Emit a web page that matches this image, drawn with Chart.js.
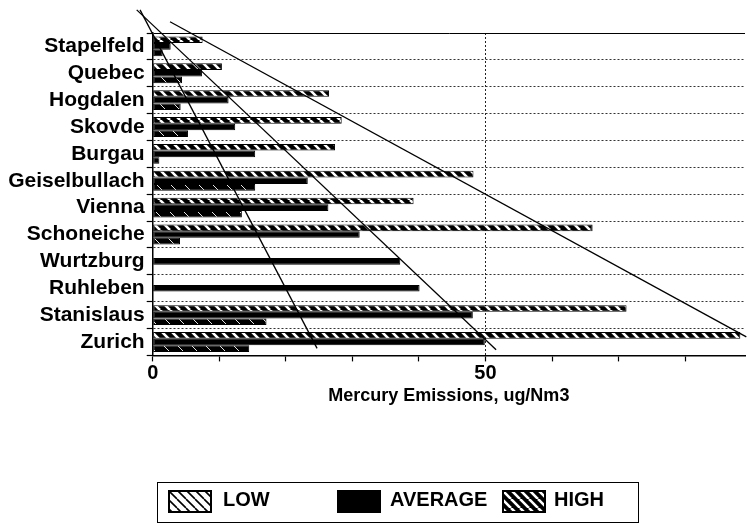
<!DOCTYPE html>
<html>
<head>
<meta charset="utf-8">
<title>Mercury Emissions</title>
<script src="https://cdn.jsdelivr.net/npm/chart.js@4.4.1/dist/chart.umd.min.js"></script>
<style>
    html, body { margin: 0; padding: 0; background: #fff; }
    #wrap { position: relative; width: 747px; height: 526px; font-family: "Liberation Sans", Arial, sans-serif; }
    #chart { position: absolute; left: 0; top: 0; }
    #legend { position: absolute; left: 157px; top: 482px; width: 480px; height: 39px; border: 1px solid #000; }
    #legend canvas { position: absolute; top: 7px; }
    #legend span { position: absolute; top: 5px; font-size: 20px; font-weight: bold; line-height: 23px; color: #000; }
</style>
</head>
<body>
<div id="wrap">
    <canvas id="chart" width="747" height="526"></canvas>
    <div id="legend"></div>
</div>
<script>
"use strict";

// Plants, top to bottom
const plants = ["Stapelfeld", "Quebec", "Hogdalen", "Skovde", "Burgau", "Geiselbullach",
                "Vienna", "Schoneiche", "Wurtzburg", "Ruhleben", "Stanislaus", "Zurich"];

// Mercury emissions, ug/Nm3
const lowValues  = [1.5, 4.4, 4.2, 5.3, 1.0, 15.4, 13.4, 4.1, null, null, 17.1, 14.5];
const avgValues  = [2.7, 7.4, 11.4, 12.4, 15.4, 23.3, 26.4, 31.1, 37.2, 40.1, 48.1, 49.9];
const highValues = [7.5, 10.4, 26.5, 28.4, 27.4, 48.2, 39.2, 66.1, null, null, 71.2, 88.3];

// Hand drawn trend lines: x in ug/Nm3, y in plant rows (0 = Stapelfeld)
const lowTrend  = [{ x: -1.9, y: -1.36 }, { x: 24.7, y: 11.24 }];
const avgTrend  = [{ x: -2.4, y: -1.36 }, { x: 51.6, y: 11.29 }];
const highTrend = [{ x: 2.6,  y: -0.92 }, { x: 89.2, y: 10.81 }];

const xMax = 89;
const xTickLabels = [0, 50];
const seriesNames = ["LOW", "AVERAGE", "HIGH"];

// Diagonal hatch tile ("\" direction), used for canvas patterns
function hatchCanvas(bg, fg, size, lineWidth) {
    const c = document.createElement("canvas");
    c.width = size;
    c.height = size;
    const g = c.getContext("2d");
    g.fillStyle = bg;
    g.fillRect(0, 0, size, size);
    g.strokeStyle = fg;
    g.lineWidth = lineWidth;
    g.beginPath();
    for (let k = -1; k <= 1; k++) {
        g.moveTo(k * size, 0);
        g.lineTo(k * size + size, size);
    }
    g.stroke();
    return c;
}
const ctx = document.getElementById("chart").getContext("2d");
const lowFill  = ctx.createPattern(hatchCanvas("#000", "#fff", 14, 0.9), "repeat");
const highFill = ctx.createPattern(hatchCanvas("#000", "#fff", 10, 2.6), "repeat");

// Trend lines go through the chart's own x / y scales, not clipped to the plot
const trendLines = {
    id: "trendLines",
    afterDatasetsDraw(chart) {
        const { ctx, scales: { x, y } } = chart;
        ctx.save();
        ctx.strokeStyle = "#000";
        ctx.lineWidth = 1.3;
        [lowTrend, avgTrend, highTrend].forEach(pts => {
            ctx.beginPath();
            pts.forEach((p, i) => {
                const px = x.getPixelForValue(p.x);
                const py = y.getPixelForValue(p.y);
                if (i === 0) ctx.moveTo(px, py);
                else ctx.lineTo(px, py);
            });
            ctx.stroke();
        });
        ctx.restore();
    }
};

Chart.defaults.font.family = '"Liberation Sans", Arial, sans-serif';
Chart.defaults.color = "#000";

const barCommon = {
    borderColor: "#000",
    borderWidth: 1,
    borderSkipped: false,
    categoryPercentage: 0.74,
    barPercentage: 1.0
};

new Chart(ctx, {
    type: "bar",
    data: {
        labels: plants,
        datasets: [
            { ...barCommon, label: "HIGH", data: highValues, backgroundColor: highFill },
            { ...barCommon, label: "AVERAGE", data: avgValues, backgroundColor: "#000" },
            { ...barCommon, label: "LOW", data: lowValues, backgroundColor: lowFill }
        ]
    },
    options: {
        indexAxis: "y",
        responsive: false,
        animation: false,
        events: [],
        layout: { padding: { top: 33, left: 0, right: 2, bottom: 115 } },
        plugins: { legend: { display: false }, tooltip: { enabled: false } },
        scales: {
            x: {
                type: "linear",
                position: "bottom",
                min: 0,
                max: xMax,
                afterBuildTicks: s => { s.ticks = s.ticks.filter(t => t.value % 10 === 0); },
                ticks: {
                    stepSize: 10,
                    autoSkip: false,
                    maxRotation: 0,
                    padding: 0,
                    font: { size: 20, weight: "bold" },
                    callback: v => xTickLabels.includes(v) ? String(v) : ""
                },
                grid: {
                    color: c => (c.tick && c.tick.value === 50) ? "#222" : "transparent",
                    tickColor: "#000",
                    tickLength: 6,
                    tickWidth: 1.2
                },
                border: { display: true, color: "#000", width: 1.5, dash: [2, 2] },
                title: {
                    display: true,
                    text: "Mercury Emissions, ug/Nm3",
                    font: { size: 18, weight: "bold" },
                    padding: { top: 0, bottom: 4 }
                }
            },
            y: {
                type: "category",
                position: "left",
                afterFit: s => { s.width = 152.7; },
                ticks: { autoSkip: false, padding: 2, font: { size: 21, weight: "bold" } },
                grid: {
                    offset: true,
                    color: c => c.index === 0 ? "#000" : "#333",
                    tickColor: "#000",
                    tickLength: 6,
                    tickWidth: 1.2
                },
                border: { display: true, color: "#000", width: 1.5, dash: c => c.index === 0 ? [] : [2, 2] }
            }
        }
    },
    plugins: [trendLines]
});

// Legend box below the plot
const swatches = {
    LOW: hatchCanvas("#fff", "#000", 9, 1.6),
    AVERAGE: null,
    HIGH: hatchCanvas("#000", "#fff", 9, 2.6)
};
const legendPos = { LOW: [10, 65], AVERAGE: [179, 232], HIGH: [344, 396] };
const legend = document.getElementById("legend");
seriesNames.forEach(name => {
    const sw = document.createElement("canvas");
    sw.width = 44;
    sw.height = 23;
    sw.style.left = legendPos[name][0] + "px";
    const g = sw.getContext("2d");
    g.fillStyle = swatches[name] ? g.createPattern(swatches[name], "repeat") : "#000";
    g.fillRect(0, 0, 44, 23);
    g.strokeStyle = "#000";
    g.lineWidth = 2;
    g.strokeRect(1, 1, 42, 21);
    legend.appendChild(sw);

    const txt = document.createElement("span");
    txt.textContent = name;
    txt.style.left = legendPos[name][1] + "px";
    legend.appendChild(txt);
});
</script>
</body>
</html>
